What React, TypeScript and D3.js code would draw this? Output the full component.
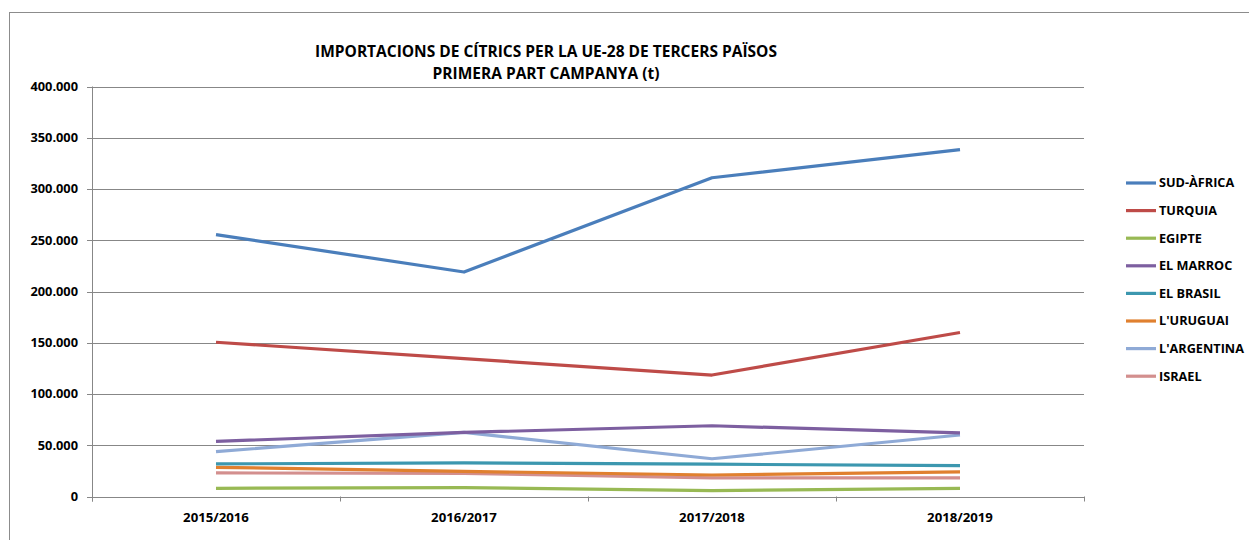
import React from "react";
import * as d3 from "d3";

const categories = ["2015/2016", "2016/2017", "2017/2018", "2018/2019"];
const seriesNames = ["SUD-ÀFRICA", "TURQUIA", "EGIPTE", "EL MARROC", "EL BRASIL", "L'URUGUAI", "L'ARGENTINA", "ISRAEL"];
const sudAfrica = [255500, 219000, 311000, 338500];
const turquia = [150500, 134500, 118500, 160000];
const egipte = [8000, 8600, 5800, 8000];
const elMarroc = [53800, 62500, 69000, 62000];
const elBrasil = [31800, 32800, 31500, 30200];
const lUruguai = [28500, 24500, 21000, 24000];
const lArgentina = [43800, 62500, 36800, 60000];
const israel = [23000, 22500, 18200, 18200];
const seriesColors = ["#4A7EBB", "#BE4B48", "#98B954", "#7D5FA0", "#3C97AF", "#E0802F", "#8FAAD6", "#D38F8E"];
const yTicks = [0, 50000, 100000, 150000, 200000, 250000, 300000, 350000, 400000];
const titleLines = ["IMPORTACIONS DE CÍTRICS PER LA UE-28 DE TERCERS PAÏSOS", "PRIMERA PART CAMPANYA (t)"];

const allSeries = [sudAfrica, turquia, egipte, elMarroc, elBrasil, lUruguai, lArgentina, israel];

export default function App() {
  const W = 1249, H = 540;
  const left = 92, right = 1084, top = 86.5, bottom = 496.5;
  const x = d3.scaleBand<string>().domain(categories).range([left, right]);
  const y = d3.scaleLinear().domain([0, 400000]).range([bottom, top]);
  const fmt = (v: number) => (v === 0 ? "0" : d3.format(",")(v).replace(/,/g, "."));
  const line = d3
    .line<number>()
    .x((_, i) => (x(categories[i]) as number) + x.bandwidth() / 2)
    .y((v) => y(v));
  const font = "'Open Sans', 'Liberation Sans', sans-serif";
  const grid = "#878787";
  const boundaries = [...categories.map((c) => x(c) as number), right];
  const drawOrder = [7, 5, 4, 2, 6, 3, 1, 0];
  return (
    <svg width={W} height={H} style={{ position: "absolute", left: 0, top: 0 }} fontFamily={font}>
      <rect x={0} y={0} width={W} height={H} fill="#fff" />
      <rect x={9.5} y={12.5} width={W + 10} height={H + 10} fill="none" stroke="#8c8c8c" strokeWidth={1} />
      {yTicks.map((t) => (
        <g key={t}>
          <line x1={left - 5} x2={right} y1={Math.round(y(t)) + 0.5} y2={Math.round(y(t)) + 0.5} stroke={grid} strokeWidth={1} />
          <text x={78} y={y(t)} dy="0.35em" textAnchor="end" fontSize={12.8} fontWeight="bold" fill="#000">
            {fmt(t)}
          </text>
        </g>
      ))}
      <line x1={left + 0.5} x2={left + 0.5} y1={top} y2={bottom + 5} stroke={grid} />
      {boundaries.map((b, i) => (
        <line key={i} x1={Math.round(b) + 0.5} x2={Math.round(b) + 0.5} y1={bottom} y2={bottom + 5} stroke={grid} />
      ))}
      {categories.map((c) => (
        <text key={c} x={(x(c) as number) + x.bandwidth() / 2} y={517} dy="0.35em" textAnchor="middle" fontSize={13.2} fontWeight="bold" fill="#000">
          {c}
        </text>
      ))}
      {drawOrder.map((i) => (
        <path key={i} d={line(allSeries[i]) || ""} fill="none" stroke={seriesColors[i]} strokeWidth={3.2} strokeLinejoin="round" />
      ))}
      {titleLines.map((t, i) => (
        <text key={i} x={546} y={52 + i * 22} dy="0.35em" textAnchor="middle" fontSize={15.5} fontWeight="bold" fill="#000">
          {t}
        </text>
      ))}
      {seriesNames.map((n, i) => {
        const ly = 183 + i * 27.6;
        return (
          <g key={n}>
            <line x1={1126} x2={1156} y1={ly} y2={ly} stroke={seriesColors[i]} strokeWidth={3.2} />
            <text x={1159} y={ly} dy="0.35em" fontSize={12.7} fontWeight="bold" fill="#000">
              {n}
            </text>
          </g>
        );
      })}
    </svg>
  );
}
